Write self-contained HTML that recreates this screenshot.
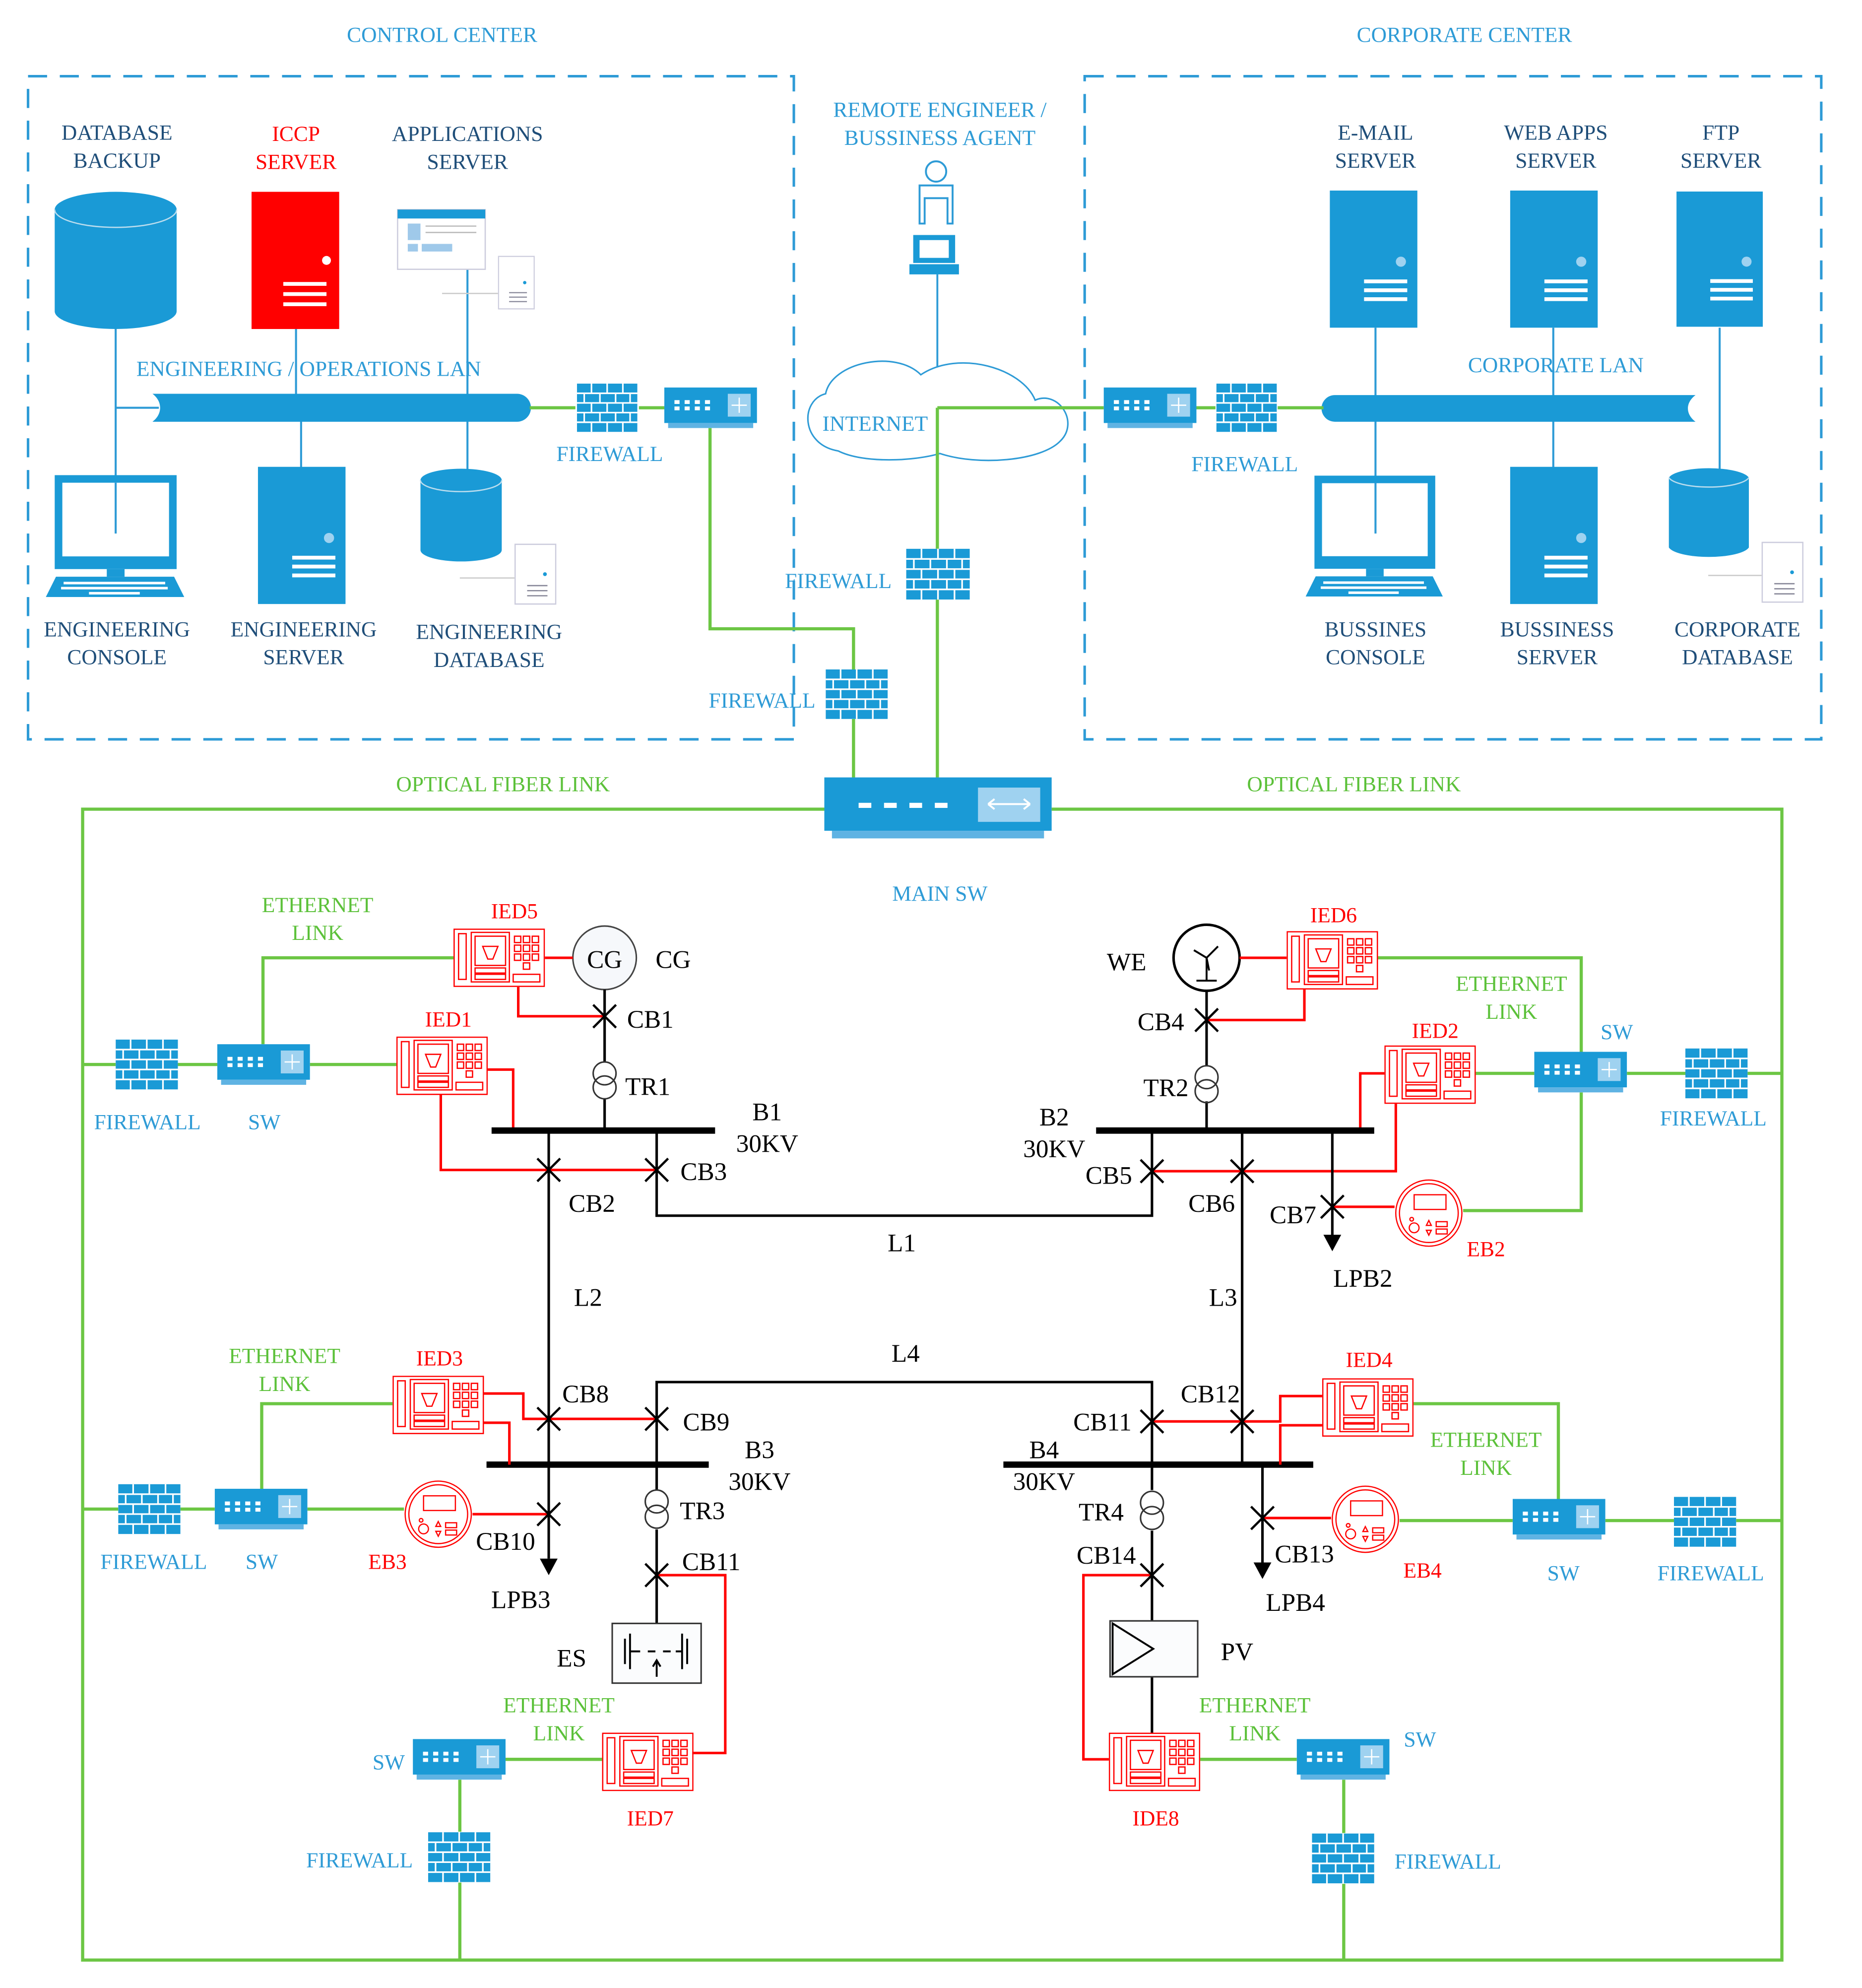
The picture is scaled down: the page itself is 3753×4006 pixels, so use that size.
<!DOCTYPE html>
<html><head><meta charset="utf-8"><style>
html,body{margin:0;padding:0;background:#fff}
svg{display:block}
text{font-family:"Liberation Serif",serif}
.lb{fill:#2e9bd6;font-size:17px;text-anchor:middle}
.db{fill:#1f4e79;font-size:17px;text-anchor:middle}
.gt{fill:#5cc13a;font-size:17px;text-anchor:middle}
.rt{fill:#ff0000;font-size:17px;text-anchor:middle}
.bt{fill:#000;font-size:20px;text-anchor:middle}
.g{stroke:#6cc644;stroke-width:2.5;fill:none}
.r{stroke:#ff0000;stroke-width:2;fill:none}
.k{stroke:#000;stroke-width:2;fill:none}
.bl{stroke:#2e9bd6;stroke-width:1.6;fill:none}
</style></head><body>
<svg width="3753" height="4006" viewBox="0 0 1466 1565" xmlns="http://www.w3.org/2000/svg">
<defs>
<symbol id="fw" viewBox="0 0 50 40">
<rect width="50" height="40" fill="#1a9ad6"/>
<g stroke="#fff" stroke-width="1.3">
<line x1="0" y1="8" x2="50" y2="8"/><line x1="0" y1="16" x2="50" y2="16"/><line x1="0" y1="24" x2="50" y2="24"/><line x1="0" y1="32" x2="50" y2="32"/>
<line x1="12" y1="0" x2="12" y2="8"/><line x1="25" y1="0" x2="25" y2="8"/><line x1="38" y1="0" x2="38" y2="8"/>
<line x1="6" y1="8" x2="6" y2="16"/><line x1="19" y1="8" x2="19" y2="16"/><line x1="32" y1="8" x2="32" y2="16"/><line x1="44" y1="8" x2="44" y2="16"/>
<line x1="12" y1="16" x2="12" y2="24"/><line x1="25" y1="16" x2="25" y2="24"/><line x1="38" y1="16" x2="38" y2="24"/>
<line x1="6" y1="24" x2="6" y2="32"/><line x1="19" y1="24" x2="19" y2="32"/><line x1="32" y1="24" x2="32" y2="32"/><line x1="44" y1="24" x2="44" y2="32"/>
<line x1="12" y1="32" x2="12" y2="40"/><line x1="25" y1="32" x2="25" y2="40"/><line x1="38" y1="32" x2="38" y2="40"/>
</g></symbol>
<symbol id="sw" viewBox="0 0 73 32">
<rect width="73" height="28" fill="#1a9ad6"/>
<rect x="3" y="28" width="67" height="4" fill="#5fb3e3"/>
<g fill="#fff"><rect x="8" y="10" width="4" height="3"/><rect x="16" y="10" width="4" height="3"/><rect x="24" y="10" width="4" height="3"/><rect x="32" y="10" width="4" height="3"/>
<rect x="8" y="15" width="4" height="3"/><rect x="16" y="15" width="4" height="3"/><rect x="24" y="15" width="4" height="3"/><rect x="32" y="15" width="4" height="3"/></g>
<rect x="50" y="5" width="18" height="18" fill="#9fd2f0"/>
<path d="M59 8v12M53 14h12" stroke="#fff" stroke-width="1"/>
</symbol>
<symbol id="ied" viewBox="0 0 72 46">
<g stroke="#ff0000" stroke-width="1" fill="none">
<rect x="0.5" y="0.5" width="71" height="45"/>
<rect x="4" y="4" width="6" height="36"/>
<rect x="14" y="3" width="30" height="39"/>
<rect x="17" y="6" width="24" height="23"/>
<path d="M23 14h12l-4 10h-4z"/>
<rect x="17" y="31" width="24" height="4"/><rect x="17" y="36" width="24" height="4"/>
<rect x="48" y="6" width="5" height="5"/><rect x="55" y="6" width="5" height="5"/><rect x="62" y="6" width="5" height="5"/>
<rect x="48" y="13" width="5" height="5"/><rect x="55" y="13" width="5" height="5"/><rect x="62" y="13" width="5" height="5"/>
<rect x="48" y="20" width="5" height="5"/><rect x="55" y="20" width="5" height="5"/><rect x="62" y="20" width="5" height="5"/>
<rect x="55" y="27" width="5" height="5"/>
<rect x="47" y="36" width="21" height="6"/>
</g></symbol>
<symbol id="srv" viewBox="0 0 69 108">
<rect width="69" height="108" fill="#1a9ad6"/>
<circle cx="56" cy="56" r="4" fill="#9fd2f0"/>
<g fill="#fff"><rect x="27" y="70" width="34" height="3"/><rect x="27" y="77" width="34" height="3"/><rect x="27" y="84" width="34" height="3"/></g>
</symbol>
<symbol id="small" viewBox="0 0 33 48">
<rect x="0.5" y="0.5" width="32" height="47" fill="#fff" stroke="#ccd" stroke-width="1"/>
<circle cx="24" cy="24" r="1.5" fill="#1a9ad6"/>
<g stroke="#889" stroke-width="1"><line x1="10" y1="33" x2="26" y2="33"/><line x1="10" y1="37" x2="26" y2="37"/><line x1="10" y1="41" x2="26" y2="41"/></g>
</symbol>
<symbol id="mon" viewBox="0 0 109 96">
<rect x="7" y="0" width="96" height="74" fill="#1a9ad6"/>
<rect x="13" y="6" width="84" height="58" fill="#fff"/>
<rect x="48" y="74" width="14" height="6" fill="#1a9ad6"/>
<path d="M8 80h93l8 16H0z" fill="#1a9ad6"/>
<g fill="#fff"><rect x="14" y="84" width="80" height="2"/><rect x="12" y="88" width="84" height="2"/><rect x="34" y="92" width="40" height="2"/></g>
</symbol>
<symbol id="eb" viewBox="0 0 56 56">
<g stroke="#ff0000" stroke-width="1" fill="none">
<circle cx="28" cy="28" r="27"/><circle cx="28" cy="28" r="24"/>
<rect x="16" y="13" width="26" height="12"/><circle cx="14" cy="33" r="1.5"/>
<circle cx="16" cy="40" r="4"/><path d="M28 34l2 4h-4z M28 46l2-4h-4z"/>
<rect x="34" y="35" width="9" height="4"/><rect x="34" y="41" width="9" height="4"/>
</g></symbol>
<symbol id="cb" viewBox="0 0 20 20"><path d="M1 1L19 19M19 1L1 19" stroke="#000" stroke-width="1.8"/></symbol>
</defs>

<!-- titles -->
<text class="lb" x="348" y="33">CONTROL CENTER</text>
<text class="lb" x="1153" y="33">CORPORATE CENTER</text>
<rect x="22" y="60" width="603" height="522" fill="none" stroke="#2e9bd6" stroke-width="2" stroke-dasharray="15 10"/>
<rect x="854" y="60" width="580" height="522" fill="none" stroke="#2e9bd6" stroke-width="2" stroke-dasharray="15 10"/>

<!-- control center -->
<text class="db" x="92" y="110">DATABASE</text><text class="db" x="92" y="132">BACKUP</text>
<text class="rt" x="233" y="111">ICCP</text><text class="rt" x="233" y="133">SERVER</text>
<text class="db" x="368" y="111">APPLICATIONS</text><text class="db" x="368" y="133">SERVER</text>
<g class="bl">
<line x1="91" y1="255" x2="91" y2="420"/><line x1="91" y1="321" x2="125" y2="321"/>
<line x1="233" y1="259" x2="233" y2="312"/><line x1="368" y1="212" x2="368" y2="372"/>
<line x1="237" y1="330" x2="237" y2="368"/>
</g>
<path d="M43 165a48 14 0 0 1 96 0v80a48 14 0 0 1-96 0z" fill="#1a9ad6"/>
<path d="M43 165a48 14 0 0 0 96 0" fill="none" stroke="#bde" stroke-width="1"/>
<rect x="198" y="151" width="69" height="108" fill="#ff0000"/>
<circle cx="257" cy="205" r="3.5" fill="#fff"/>
<g fill="#fff"><rect x="223" y="222" width="34" height="3"/><rect x="223" y="230" width="34" height="3"/><rect x="223" y="238" width="34" height="3"/></g>
<rect x="313" y="165" width="69" height="47" fill="#fff" stroke="#ccd"/>
<rect x="313" y="165" width="69" height="7" fill="#1a9ad6"/>
<rect x="321" y="176" width="10" height="13" fill="#9fc9ea"/><rect x="321" y="192" width="8" height="6" fill="#9fc9ea"/><rect x="332" y="192" width="24" height="6" fill="#9fc9ea"/>
<g stroke="#bbb"><line x1="335" y1="178" x2="375" y2="178"/><line x1="335" y1="183" x2="375" y2="183"/></g>
<use href="#small" x="392" y="200" width="29" height="45"/>
<line x1="348" y1="231" x2="392" y2="231" stroke="#ccc"/>
<text class="lb" x="243" y="296">ENGINEERING / OPERATIONS LAN</text>
<path d="M120 310h287a11 11 0 0 1 0 22H120c8-6 8-16 0-22z" fill="#1a9ad6"/>
<path class="g" d="M417 321h36M503 321h20"/>
<use href="#fw" x="453" y="302" width="50" height="38"/>
<use href="#sw" x="523" y="305" width="73" height="32"/>
<text class="lb" x="480" y="363">FIREWALL</text>
<use href="#mon" x="36" y="374" width="109" height="96"/>
<line x1="91" y1="380" x2="91" y2="420" stroke="#2e9bd6" stroke-width="1.6"/>
<use href="#srv" x="203" y="367" width="69" height="109"/>
<path d="M331 378a32 9 0 0 1 64 0v55a32 9 0 0 1-64 0z" fill="#1a9ad6"/>
<path d="M331 378a32 9 0 0 0 64 0" fill="none" stroke="#bde"/>
<use href="#small" x="405" y="427" width="33" height="50"/>
<line x1="362" y1="455" x2="405" y2="455" stroke="#ccc"/>
<text class="db" x="92" y="501">ENGINEERING</text><text class="db" x="92" y="523">CONSOLE</text>
<text class="db" x="239" y="501">ENGINEERING</text><text class="db" x="239" y="523">SERVER</text>
<text class="db" x="385" y="503">ENGINEERING</text><text class="db" x="385" y="525">DATABASE</text>

<!-- middle -->
<text class="lb" x="740" y="92">REMOTE ENGINEER /</text><text class="lb" x="740" y="114">BUSSINESS AGENT</text>
<g stroke="#2e9bd6" stroke-width="1.5" fill="#fff">
<circle cx="737" cy="135" r="8"/>
<path d="M724 146h26v30h-4v-20h-18v20h-4z"/>
</g>
<rect x="719" y="185" width="33" height="22" fill="#1a9ad6"/><rect x="724" y="189" width="23" height="14" fill="#fff"/>
<rect x="716" y="208" width="39" height="8" fill="#1a9ad6"/>
<line x1="738" y1="216" x2="738" y2="322" stroke="#2e9bd6" stroke-width="1.5"/>
<path d="M650 310c-20 5-20 40 10 45c20 10 60 8 80 2c30 10 80 6 95-10c15-15-2-40-20-32c-10-25-60-40-90-20c-20-20-70-10-75 15z" fill="#fff" stroke="#2e9bd6" stroke-width="1.2"/>
<text class="lb" x="689" y="339">INTERNET</text>
<path class="g" d="M738 321h131M738 321v111M738 472v140"/>
<use href="#fw" x="713" y="432" width="51" height="40"/>
<text class="lb" x="660" y="463">FIREWALL</text>
<path class="g" d="M559 337v158h113v32M672 566v46"/>
<use href="#fw" x="650" y="527" width="49" height="39"/>
<text class="lb" x="600" y="557">FIREWALL</text>
<rect x="649" y="612" width="179" height="42" fill="#1a9ad6"/>
<rect x="655" y="654" width="167" height="6" fill="#5fb3e3"/>
<g fill="#fff"><rect x="676" y="632" width="10" height="4"/><rect x="696" y="632" width="10" height="4"/><rect x="716" y="632" width="10" height="4"/><rect x="736" y="632" width="10" height="4"/></g>
<rect x="770" y="620" width="49" height="27" fill="#9fd2f0"/>
<path d="M778 633h33M778 633l5-4M778 633l5 4M811 633l-5-4M811 633l-5 4" stroke="#fff" stroke-width="1.5"/>
<text class="lb" x="740" y="709">MAIN SW</text>

<!-- corporate -->
<text class="db" x="1083" y="110">E-MAIL</text><text class="db" x="1083" y="132">SERVER</text>
<text class="db" x="1225" y="110">WEB APPS</text><text class="db" x="1225" y="132">SERVER</text>
<text class="db" x="1355" y="110">FTP</text><text class="db" x="1355" y="132">SERVER</text>
<use href="#srv" x="1047" y="150" width="69" height="108"/>
<use href="#srv" x="1189" y="150" width="69" height="108"/>
<use href="#srv" x="1320" y="150" width="68" height="108"/>
<g class="bl">
<line x1="1083" y1="258" x2="1083" y2="420"/><line x1="1223" y1="258" x2="1223" y2="368"/><line x1="1354" y1="258" x2="1354" y2="372"/>
</g>
<text class="lb" x="1225" y="293">CORPORATE LAN</text>
<path d="M1051 311h284c-8 6-8 15 0 21H1051a10.5 10.5 0 0 1 0-21z" fill="#1a9ad6"/>
<path class="g" d="M942 321h15M1006 321h36"/>
<use href="#sw" x="869" y="305" width="73" height="32"/>
<use href="#fw" x="957" y="302" width="49" height="38"/>
<text class="lb" x="980" y="371">FIREWALL</text>
<use href="#mon" x="1028" y="374" width="108" height="96"/>
<line x1="1083" y1="380" x2="1083" y2="420" stroke="#2e9bd6" stroke-width="1.6"/>
<use href="#srv" x="1189" y="367" width="69" height="109"/>
<path d="M1314 376a32 9 0 0 1 63 0v55a32 9 0 0 1-63 0z" fill="#1a9ad6"/>
<path d="M1314 376a32 9 0 0 0 63 0" fill="none" stroke="#bde"/>
<use href="#small" x="1387" y="425" width="33" height="51"/>
<line x1="1345" y1="453" x2="1387" y2="453" stroke="#ccc"/>
<text class="db" x="1083" y="501">BUSSINES</text><text class="db" x="1083" y="523">CONSOLE</text>
<text class="db" x="1226" y="501">BUSSINESS</text><text class="db" x="1226" y="523">SERVER</text>
<text class="db" x="1368" y="501">CORPORATE</text><text class="db" x="1368" y="523">DATABASE</text>

<!-- optical box -->
<path class="g" d="M649 637H65V1543H1403V637H828"/>
<text class="gt" x="396" y="623">OPTICAL FIBER LINK</text>
<text class="gt" x="1066" y="623">OPTICAL FIBER LINK</text>

<!-- upper left -->
<text class="gt" x="250" y="718">ETHERNET</text><text class="gt" x="250" y="740">LINK</text>
<path class="g" d="M357 754H207v68M65 838h26M140 838h31M244 838h68"/>
<use href="#fw" x="91" y="818" width="49" height="40"/>
<use href="#sw" x="171" y="822" width="73" height="32"/>
<text class="lb" x="116" y="889">FIREWALL</text><text class="lb" x="208" y="889">SW</text>
<use href="#ied" x="357" y="731" width="72" height="46"/>
<text class="rt" x="405" y="723">IED5</text>
<use href="#ied" x="312" y="816" width="72" height="46"/>
<text class="rt" x="353" y="808">IED1</text>
<circle cx="476" cy="754" r="25" fill="#f6f8fb" stroke="#444" stroke-width="1.2"/>
<text class="bt" x="476" y="762">CG</text>
<text class="bt" x="530" y="762">CG</text>
<path class="r" d="M429 754h22M408 777v23h68M384 842h20v48M347 862v59h170"/>
<path class="k" d="M476 779v57M476 865v25M432 890v263M517 890v67h390v-67"/>
<circle cx="476" cy="845" r="9" fill="none" stroke="#333" stroke-width="1.2"/><circle cx="476" cy="856" r="9" fill="none" stroke="#333" stroke-width="1.2"/>
<use href="#cb" x="466" y="790" width="20" height="20"/>
<text class="bt" x="512" y="809">CB1</text><text class="bt" x="510" y="862">TR1</text>
<line x1="387" y1="890" x2="563" y2="890" stroke="#000" stroke-width="5"/>
<text class="bt" x="604" y="882">B1</text><text class="bt" x="604" y="907">30KV</text>
<use href="#cb" x="422" y="911" width="20" height="20"/><use href="#cb" x="507" y="911" width="20" height="20"/>
<text class="bt" x="466" y="954">CB2</text><text class="bt" x="554" y="929">CB3</text>
<text class="bt" x="710" y="985">L1</text><text class="bt" x="463" y="1028">L2</text>

<!-- upper right -->
<circle cx="950" cy="754" r="26" fill="#fff" stroke="#000" stroke-width="2"/>
<path d="M950 754v18M942 772h16M950 754l-10-6M950 754l9-9M950 754l2 10" stroke="#000" stroke-width="1.5"/>
<text class="bt" x="887" y="764">WE</text>
<use href="#ied" x="1013" y="733" width="72" height="46"/>
<text class="rt" x="1050" y="726">IED6</text>
<path class="r" d="M976 754h37M1027 779v24H950M1090 845h-19v45M1099 869v53H907M1049 950h49"/>
<path class="k" d="M950 780v59M950 867v23M978 890v263M1049 890v85"/>
<path d="M1042 972h14l-7 13z" fill="#000"/>
<circle cx="950" cy="848" r="9" fill="none" stroke="#333" stroke-width="1.2"/><circle cx="950" cy="859" r="9" fill="none" stroke="#333" stroke-width="1.2"/>
<use href="#cb" x="940" y="793" width="20" height="20"/>
<text class="bt" x="914" y="811">CB4</text><text class="bt" x="918" y="863">TR2</text>
<line x1="863" y1="890" x2="1082" y2="890" stroke="#000" stroke-width="5"/>
<text class="bt" x="830" y="886">B2</text><text class="bt" x="830" y="911">30KV</text>
<use href="#cb" x="897" y="912" width="20" height="20"/><use href="#cb" x="968" y="912" width="20" height="20"/><use href="#cb" x="1039" y="940" width="20" height="20"/>
<text class="bt" x="873" y="932">CB5</text><text class="bt" x="954" y="954">CB6</text><text class="bt" x="1018" y="963">CB7</text>
<text class="bt" x="1073" y="1013">LPB2</text>
<use href="#ied" x="1090" y="823" width="72" height="46"/>
<text class="rt" x="1130" y="817">IED2</text>
<use href="#eb" x="1098" y="928" width="54" height="54"/>
<text class="rt" x="1170" y="989">EB2</text>
<text class="gt" x="1190" y="780">ETHERNET</text><text class="gt" x="1190" y="802">LINK</text>
<path class="g" d="M1085 754h160v74M1162 845h46M1281 845h46M1376 845h27M1245 860v93h-93"/>
<use href="#sw" x="1208" y="828" width="73" height="32"/>
<use href="#fw" x="1327" y="825" width="49" height="40"/>
<text class="lb" x="1273" y="818">SW</text><text class="lb" x="1349" y="886">FIREWALL</text>
<text class="bt" x="963" y="1028">L3</text>

<!-- L4 -->
<path class="k" d="M517 1153v-65h390v65"/>
<text class="bt" x="713" y="1072">L4</text>

<!-- lower left -->
<line x1="383" y1="1153" x2="558" y2="1153" stroke="#000" stroke-width="5"/>
<text class="bt" x="598" y="1148">B3</text><text class="bt" x="598" y="1173">30KV</text>
<use href="#ied" x="309" y="1083" width="72" height="46"/>
<text class="rt" x="346" y="1075">IED3</text>
<path class="r" d="M381 1097h31v20h105M381 1120h20v33M372 1192h60M545 1380h26v-140h-54"/>
<path class="k" d="M432 1153v74M517 1153v20M517 1204v74"/>
<path d="M425 1227h14l-7 13z" fill="#000"/>
<use href="#cb" x="422" y="1107" width="20" height="20"/><use href="#cb" x="507" y="1107" width="20" height="20"/>
<text class="bt" x="461" y="1104">CB8</text><text class="bt" x="556" y="1126">CB9</text>
<use href="#cb" x="422" y="1182" width="20" height="20"/>
<text class="bt" x="398" y="1220">CB10</text><text class="bt" x="410" y="1266">LPB3</text>
<circle cx="517" cy="1182" r="9" fill="none" stroke="#333" stroke-width="1.2"/><circle cx="517" cy="1194" r="9" fill="none" stroke="#333" stroke-width="1.2"/>
<text class="bt" x="553" y="1196">TR3</text>
<use href="#cb" x="507" y="1230" width="20" height="20"/>
<text class="bt" x="560" y="1236">CB11</text>
<rect x="482" y="1278" width="70" height="47" fill="#fbfcfd" stroke="#333" stroke-width="1.2"/>
<path d="M492 1290v20M496 1286v28M537 1286v28M541 1290v20M496 1300h8M510 1300h6M522 1300h6M532 1300h5M517 1320v-12M514 1312l3-5 3 5" stroke="#000" stroke-width="1.5" fill="none"/>
<text class="bt" x="450" y="1312">ES</text>
<use href="#eb" x="318" y="1165" width="54" height="54"/>
<text class="rt" x="305" y="1235">EB3</text>
<text class="gt" x="224" y="1073">ETHERNET</text><text class="gt" x="224" y="1095">LINK</text>
<path class="g" d="M309 1105H206v67M65 1188h28M142 1188h27M242 1188h76"/>
<use href="#fw" x="93" y="1168" width="49" height="40"/>
<use href="#sw" x="169" y="1172" width="73" height="32"/>
<text class="lb" x="121" y="1235">FIREWALL</text><text class="lb" x="206" y="1235">SW</text>
<use href="#ied" x="474" y="1364" width="72" height="46"/>
<text class="rt" x="512" y="1437">IED7</text>
<text class="gt" x="440" y="1348">ETHERNET</text><text class="gt" x="440" y="1370">LINK</text>
<path class="g" d="M474 1385h-76M362 1401v41M362 1482v61"/>
<use href="#sw" x="325" y="1369" width="73" height="32"/>
<use href="#fw" x="337" y="1442" width="49" height="40"/>
<text class="lb" x="306" y="1393">SW</text><text class="lb" x="283" y="1470">FIREWALL</text>

<!-- lower right -->
<line x1="790" y1="1153" x2="1034" y2="1153" stroke="#000" stroke-width="5"/>
<text class="bt" x="822" y="1148">B4</text><text class="bt" x="822" y="1173">30KV</text>
<use href="#ied" x="1041" y="1085" width="72" height="46"/>
<text class="rt" x="1078" y="1076">IED4</text>
<path class="r" d="M1041 1099h-33v20H907M1041 1122h-33v31M994 1195h54M907 1240h-54v145h20"/>
<path class="k" d="M994 1153v77M907 1153v20M907 1205v71M907 1320v44"/>
<path d="M987 1230h14l-7 13z" fill="#000"/>
<use href="#cb" x="897" y="1109" width="20" height="20"/><use href="#cb" x="968" y="1109" width="20" height="20"/>
<text class="bt" x="868" y="1126">CB11</text><text class="bt" x="953" y="1104">CB12</text>
<use href="#cb" x="984" y="1185" width="20" height="20"/>
<text class="bt" x="1027" y="1230">CB13</text><text class="bt" x="1020" y="1268">LPB4</text>
<circle cx="907" cy="1183" r="9" fill="none" stroke="#333" stroke-width="1.2"/><circle cx="907" cy="1195" r="9" fill="none" stroke="#333" stroke-width="1.2"/>
<text class="bt" x="867" y="1197">TR4</text>
<use href="#cb" x="897" y="1230" width="20" height="20"/>
<text class="bt" x="871" y="1231">CB14</text>
<rect x="874" y="1276" width="69" height="44" fill="#fbfcfd" stroke="#333" stroke-width="1.2"/>
<path d="M876 1278v40l32-20z" fill="none" stroke="#000" stroke-width="1.5"/>
<text class="bt" x="974" y="1307">PV</text>
<use href="#eb" x="1048" y="1169" width="54" height="54"/>
<text class="rt" x="1120" y="1242">EB4</text>
<text class="gt" x="1170" y="1139">ETHERNET</text><text class="gt" x="1170" y="1161">LINK</text>
<path class="g" d="M1113 1105h114v75M1102 1197h89M1264 1197h54M1367 1197h36"/>
<use href="#sw" x="1191" y="1180" width="73" height="32"/>
<use href="#fw" x="1318" y="1178" width="49" height="40"/>
<text class="lb" x="1231" y="1244">SW</text><text class="lb" x="1347" y="1244">FIREWALL</text>
<use href="#ied" x="873" y="1364" width="72" height="46"/>
<text class="rt" x="910" y="1437">IDE8</text>
<text class="gt" x="988" y="1348">ETHERNET</text><text class="gt" x="988" y="1370">LINK</text>
<path class="g" d="M945 1385h76M1058 1401v42M1058 1483v60"/>
<use href="#sw" x="1021" y="1369" width="73" height="32"/>
<use href="#fw" x="1033" y="1443" width="49" height="40"/>
<text class="lb" x="1118" y="1375">SW</text><text class="lb" x="1140" y="1471">FIREWALL</text>
</svg>
</body></html>
